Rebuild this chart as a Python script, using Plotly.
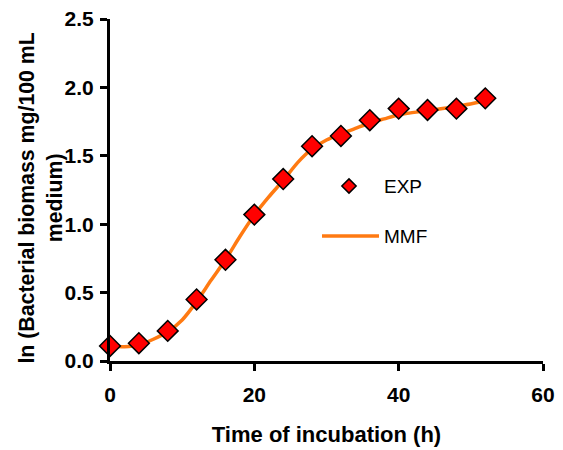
import plotly.graph_objects as go

# Experimental measurements (time in h, ln biomass)
time_exp = [0, 4, 8, 12, 16, 20, 24, 28, 32, 36, 40, 44, 48, 52]
ln_biomass_exp = [0.11, 0.13, 0.22, 0.45, 0.74, 1.07, 1.33, 1.57, 1.645, 1.76, 1.845, 1.835, 1.845, 1.92]

# MMF model curve
time_mmf = [0, 2, 4, 6, 8, 10, 12, 14, 16, 18, 20, 22, 24, 26, 28, 30, 32, 34, 36, 38, 40, 44, 48, 52]
ln_biomass_mmf = [0.11, 0.105, 0.117, 0.159, 0.214, 0.30, 0.434, 0.59, 0.74, 0.91, 1.067, 1.20, 1.32,
                  1.45, 1.55, 1.615, 1.66, 1.70, 1.74, 1.77, 1.80, 1.83, 1.86, 1.90]

x_ticks = [0, 20, 40, 60]
y_ticks = [0.0, 0.5, 1.0, 1.5, 2.0, 2.5]
y_tick_text = ["0.0", "0.5", "1.0", "1.5", "2.0", "2.5"]

FONT = "Arial, Liberation Sans, sans-serif"
ORANGE = "#FF7A12"
RED = "#FF0000"

fig = go.Figure()

fig.add_trace(go.Scatter(
    x=time_mmf, y=ln_biomass_mmf, mode="lines", name="MMF",
    line=dict(color=ORANGE, width=3.5, shape="spline", smoothing=0.6),
    cliponaxis=False, showlegend=False,
))
fig.add_trace(go.Scatter(
    x=time_exp, y=ln_biomass_exp, mode="markers", name="EXP",
    marker=dict(symbol="diamond", size=16, color=RED, line=dict(color="black", width=1.5)),
    cliponaxis=False, showlegend=False,
))

# Legend keys on a hidden overlay axis measured in plot-area pixels
legend_marker_x = [239]
legend_marker_y = [175]
legend_line_x = [212, 269]
legend_line_y = [125, 125]
fig.add_trace(go.Scatter(
    x=legend_marker_x, y=legend_marker_y, mode="markers", xaxis="x2", yaxis="y2",
    marker=dict(symbol="diamond", size=11, color=RED, line=dict(color="black", width=1.5)),
    cliponaxis=False, showlegend=False, hoverinfo="skip",
))
fig.add_trace(go.Scatter(
    x=legend_line_x, y=legend_line_y, mode="lines", xaxis="x2", yaxis="y2",
    line=dict(color=ORANGE, width=3.5),
    cliponaxis=False, showlegend=False, hoverinfo="skip",
))
fig.add_annotation(x=272, y=175, xref="x2", yref="y2", text="EXP", showarrow=False,
                   xanchor="left", yanchor="middle", font=dict(family=FONT, size=19, color="black"))
fig.add_annotation(x=272, y=125, xref="x2", yref="y2", text="MMF", showarrow=False,
                   xanchor="left", yanchor="middle", font=dict(family=FONT, size=19, color="black"))

# Y-axis title, two lines rotated
fig.add_annotation(x=-0.16, y=0.477, xref="paper", yref="paper",
                   text="ln (Bacterial biomass mg/100 mL<br>medium)", showarrow=False,
                   textangle=-90, xanchor="center", yanchor="middle",
                   font=dict(family=FONT, size=21.3, color="black", weight="bold"))

axis_common = dict(
    showline=True, linecolor="black", linewidth=3,
    ticks="outside", ticklen=7, tickwidth=3, tickcolor="black",
    showgrid=False, zeroline=False, automargin=False,
    tickfont=dict(family=FONT, size=21, color="black", weight="bold"),
)

fig.update_layout(
    width=563, height=450,
    margin=dict(l=110, r=20, t=19, b=89),
    paper_bgcolor="white", plot_bgcolor="white",
    xaxis=dict(range=[0, 60], tickvals=x_ticks, ticklabelstandoff=6,
               title=dict(text="Time of incubation (h)", standoff=22,
                          font=dict(family=FONT, size=22, color="black", weight="bold")),
               **axis_common),
    yaxis=dict(range=[0, 2.5], tickvals=y_ticks, ticktext=y_tick_text, ticklabelstandoff=2,
               **axis_common),
    xaxis2=dict(range=[0, 433], overlaying="x", visible=False, fixedrange=True),
    yaxis2=dict(range=[0, 342], overlaying="y", visible=False, fixedrange=True),
)

fig.write_html("out.html")
